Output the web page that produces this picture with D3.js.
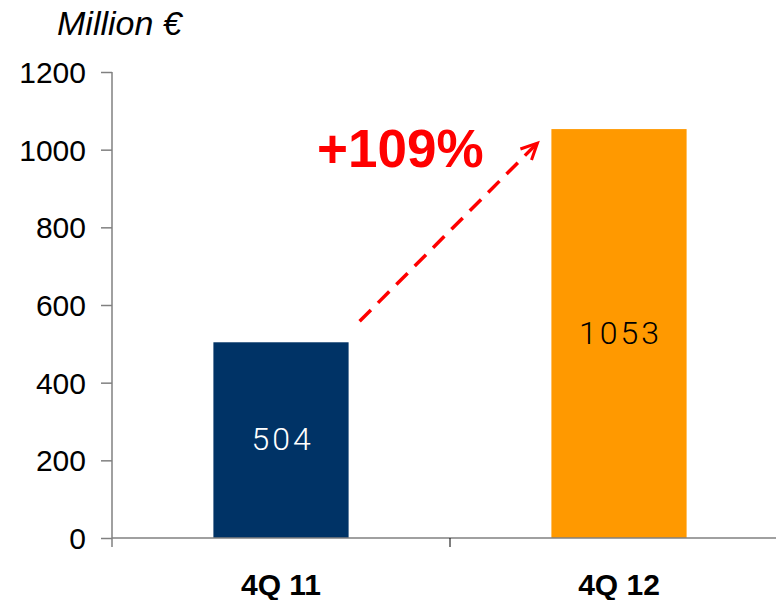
<!DOCTYPE html>
<html>
<head>
<meta charset="utf-8">
<script src="https://cdn.jsdelivr.net/npm/d3@7"></script>
<style>
  body { margin: 0; background: #fff; }
  svg { display: block; }
</style>
</head>
<body>
<script>
var categories = ['4Q 11', '4Q 12'];
var values = [504, 1053];
var barColors = ['#003366', '#ff9900'];
var labelColors = ['#ffffff', '#000000'];
var yTicks = [0, 200, 400, 600, 800, 1000, 1200];
var growthLabel = '+109%';

var width = 776;
var height = 600;
var margin = { top: 72, right: -12, bottom: 62, left: 112 };

var svg = d3.select('body').append('svg')
    .attr('width', width)
    .attr('height', height);

var x = d3.scaleBand()
    .domain(categories)
    .range([margin.left, width - margin.right])
    .paddingInner(0.6)
    .paddingOuter(0.3);

var y = d3.scaleLinear()
    .domain([0, 1200])
    .range([height - margin.bottom, margin.top]);

var axisColor = '#808080';

// y axis
var yAxis = svg.append('g')
    .attr('transform', 'translate(' + margin.left + ',0)')
    .call(d3.axisLeft(y).tickValues(yTicks).tickFormat(d3.format('d'))
        .tickSize(11).tickPadding(15).tickSizeOuter(0));
yAxis.select('.domain').remove();
yAxis.append('line')
    .attr('x1', 0).attr('x2', 0)
    .attr('y1', y(1200)).attr('y2', y(0) + 9)
    .attr('stroke', axisColor).attr('stroke-width', 1.5);
yAxis.selectAll('.tick line').attr('stroke', axisColor).attr('stroke-width', 1.5);
yAxis.selectAll('.tick text')
    .attr('fill', '#000')
    .style('font-family', 'Liberation Sans, Arial, sans-serif')
    .style('font-size', '30px')
    .attr('dy', '0.35em');

// bars
svg.append('g')
    .selectAll('rect')
    .data(values)
    .enter().append('rect')
    .attr('x', function (d, i) { return x(categories[i]); })
    .attr('y', function (d) { return y(d); })
    .attr('width', x.bandwidth())
    .attr('height', function (d) { return y(0) - y(d); })
    .attr('fill', function (d, i) { return barColors[i]; });

// x axis line and separator tick
svg.append('line')
    .attr('x1', margin.left).attr('x2', width)
    .attr('y1', y(0)).attr('y2', y(0))
    .attr('stroke', axisColor).attr('stroke-width', 1.5);
var sep = (x(categories[0]) + x.bandwidth() + x(categories[1])) / 2;
svg.append('line')
    .attr('x1', sep).attr('x2', sep)
    .attr('y1', y(0)).attr('y2', y(0) + 9)
    .attr('stroke', '#000').attr('stroke-width', 1);

// category labels
svg.append('g')
    .selectAll('text')
    .data(categories)
    .enter().append('text')
    .attr('x', function (d) { return x(d) + x.bandwidth() / 2; })
    .attr('y', y(0) + 57)
    .attr('text-anchor', 'middle')
    .style('font-family', 'Liberation Sans, Arial, sans-serif')
    .style('font-weight', 'bold')
    .style('font-size', '30px')
    .text(function (d) { return d; });

// value labels
svg.append('g')
    .selectAll('text')
    .data(values)
    .enter().append('text')
    .attr('x', function (d, i) { return x(categories[i]) + x.bandwidth() / 2 + 1.5; })
    .attr('y', function (d) { return y(d) + (y(0) - y(d)) / 2 + 10; })
    .attr('text-anchor', 'middle')
    .attr('fill', function (d, i) { return labelColors[i]; })
    .style('font-family', 'Roboto, sans-serif')
    .style('font-weight', 300)
    .style('font-size', '32px')
    .style('letter-spacing', '3px')
    .text(function (d) { return d; });

// title
svg.append('text')
    .attr('x', 57)
    .attr('y', 35)
    .style('font-family', 'Liberation Sans, Arial, sans-serif')
    .style('font-style', 'italic')
    .style('font-size', '34px')
    .text('Million €');

// growth arrow
var redColor = '#ff0000';
var x0 = x(categories[0]) + x.bandwidth() + 11;
var y0 = y(values[0]) - 21;
var x1 = x(categories[1]) - 14;
var y1 = y(values[1]) + 14;
svg.append('line')
    .attr('x1', x0).attr('y1', y0)
    .attr('x2', x1).attr('y2', y1)
    .attr('stroke', redColor)
    .attr('stroke-width', 3.5)
    .attr('stroke-dasharray', '16,10');
var ang = Math.atan2(y1 - y0, x1 - x0);
var head = 18;
svg.append('path')
    .attr('d', d3.line()([
        [x1 - head * Math.cos(ang - 0.45), y1 - head * Math.sin(ang - 0.45)],
        [x1, y1],
        [x1 - head * Math.cos(ang + 0.45), y1 - head * Math.sin(ang + 0.45)]
    ]))
    .attr('fill', 'none')
    .attr('stroke', redColor)
    .attr('stroke-width', 3);

svg.append('text')
    .attr('x', 317)
    .attr('y', 167)
    .attr('fill', redColor)
    .style('font-family', 'Liberation Sans, Arial, sans-serif')
    .style('font-weight', 'bold')
    .style('font-size', '53px')
    .text(growthLabel);
</script>
</body>
</html>
